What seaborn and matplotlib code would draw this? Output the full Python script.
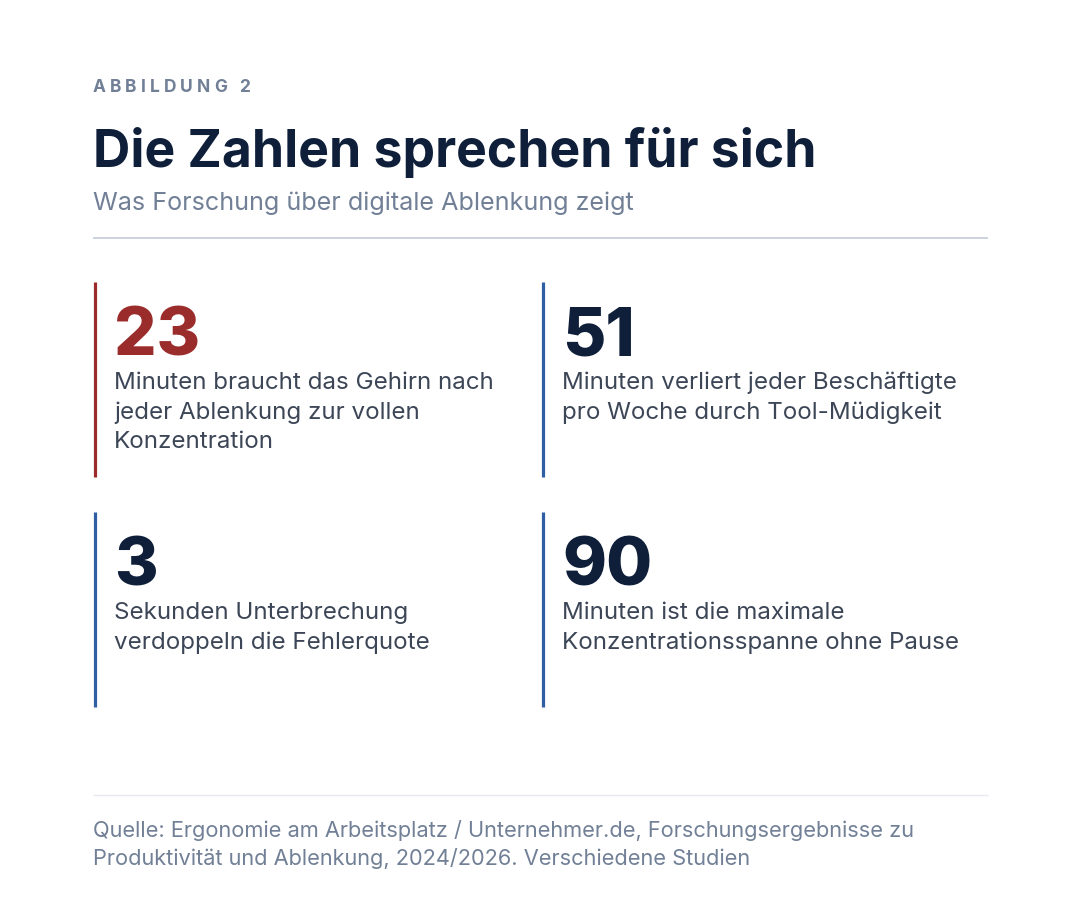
import matplotlib.pyplot as plt
import seaborn as sns

sns.set_style("white")
plt.rcParams['font.family'] = ['Inter', 'DejaVu Sans']

# data
stat_values = ["23", "51", "3", "90"]
stat_texts = [
    ["Minuten braucht das Gehirn nach", "jeder Ablenkung zur vollen", "Konzentration"],
    ["Minuten verliert jeder Beschäftigte", "pro Woche durch Tool-Müdigkeit"],
    ["Sekunden Unterbrechung", "verdoppeln die Fehlerquote"],
    ["Minuten ist die maximale", "Konzentrationsspanne ohne Pause"],
]
stat_highlight = [True, False, False, False]

kicker = "ABBILDUNG 2"
title = "Die Zahlen sprechen für sich"
subtitle = "Was Forschung über digitale Ablenkung zeigt"
source_lines = [
    "Quelle: Ergonomie am Arbeitsplatz / Unternehmer.de, Forschungsergebnisse zu",
    "Produktivität und Ablenkung, 2024/2026. Verschiedene Studien",
]

NAVY = "#0f1f3a"
RED = "#9b2c2c"
BLUE = "#2f5ea3"
GREY = "#718096"
BODY = "#3c4656"

W, H = 1080, 898
fig = plt.figure(figsize=(W / 100, H / 100), dpi=100)
ax = fig.add_axes([0, 0, 1, 1])
ax.set_xlim(0, W)
ax.set_ylim(H, 0)
ax.axis("off")

# kicker with letter spacing
fig.canvas.draw()
renderer = fig.canvas.get_renderer()
x = 93
for ch in kicker:
    t = ax.text(x, 92, ch, fontsize=12.5, fontweight="bold", color=GREY, va="baseline")
    bb = t.get_window_extent(renderer)
    x += bb.width + 4.0

ax.text(93, 167, title, fontsize=37.2, fontweight="bold", color=NAVY, va="baseline")
ax.text(93, 210, subtitle, fontsize=18.1, color=GREY, va="baseline")
ax.hlines(238, 93, 988, color="#c5ccd8", linewidth=1.2)

col_x = [93, 541]
row_y = [282, 512]
card_h = 195
for i, (val, lines, hl) in enumerate(zip(stat_values, stat_texts, stat_highlight)):
    cx = col_x[i % 2]
    cy = row_y[i // 2]
    ax.vlines(cx + 1.5, cy, cy + card_h, color=RED if hl else BLUE, linewidth=2.3)
    ax.text(cx + 21, cy + 74, val, fontsize=48, fontweight="heavy",
            color=RED if hl else NAVY, va="baseline")
    for k, line in enumerate(lines):
        ax.text(cx + 21, cy + 107 + k * 29.5, line, fontsize=17.4, color=BODY, va="baseline")

ax.hlines(795, 93, 988, color="#e6eaf0", linewidth=1)
for k, line in enumerate(source_lines):
    ax.text(93, 837 + k * 28, line, fontsize=15.7, color=GREY, va="baseline")

fig.savefig("out.png", dpi=100, facecolor="white")
